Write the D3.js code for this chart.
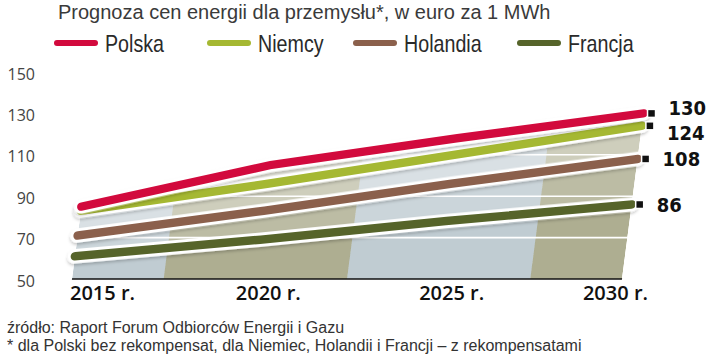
<!DOCTYPE html>
<html><head><meta charset="utf-8">
<script src="https://cdn.jsdelivr.net/npm/d3@7"></script>
<style>
html,body{margin:0;padding:0;background:#fff;}
svg{display:block;}
</style></head>
<body>
<svg id="chart" width="720" height="357"></svg>
<script>
// ---- data ----
const years = [2015, 2020, 2025, 2030];
const seriesNames = ["Polska", "Niemcy", "Holandia", "Francja"];
const polska   = [85, 105, 118, 130];
const niemcy   = [83, 96, 110, 124];
const holandia = [71, 83, 96, 108];
const francja  = [61, 69, 78, 86];
const endLabels = ["130", "124", "108", "86"];
const yTicks = [50, 70, 90, 110, 130, 150];
const xTickLabels = ["2015 r.", "2020 r.", "2025 r.", "2030 r."];
const bandBreaks = [2015, 2017.5, 2022.5, 2027.5, 2030];
const title = "Prognoza cen energii dla przemysłu*, w euro za 1 MWh";
const source = "źródło: Raport Forum Odbiorców Energii i Gazu";
const note = "* dla Polski bez rekompensat, dla Niemiec, Holandii i Francji – z rekompensatami";

// ---- styles / layout ----
const colors = ["#d20a3d", "#a5b832", "#8b604c", "#56642a"];
const bandColors = ["#94a9b3", "#7a7844"];
const legendX = [54, 207, 353, 517];
const labelNudge = [-6, 7, 0, 0];
const shear = 0.13;

const seriesValues = [polska, niemcy, holandia, francja];
const svg = d3.select("#chart");
const defs = svg.append("defs");

const x = d3.scaleLinear().domain([2015, 2030]).range([72, 622]);
const y = d3.scaleLinear().domain([50, 150]).range([279, 72]);
const baseY = y(50);
const shX = (yr, v) => x(yr) + shear * (baseY - y(v));

// title
svg.append("text").attr("x", 58).attr("y", 19)
  .attr("font-family", "'Liberation Sans', sans-serif")
  .attr("font-size", 20).attr("fill", "#3a3a3a").text(title);

// legend (condensed horizontally)
const lg = svg.append("g");
seriesNames.forEach((n, i) => {
  lg.append("line").attr("x1", legendX[i] + 3).attr("x2", legendX[i] + 41)
    .attr("y1", 43).attr("y2", 43).attr("stroke", colors[i])
    .attr("stroke-width", 6).attr("stroke-linecap", "round");
  lg.append("text").attr("transform", `translate(${legendX[i] + 51},52) scale(0.82,1)`)
    .attr("font-family", "'Liberation Sans', sans-serif")
    .attr("font-size", 24).attr("fill", "#2a2a2a").text(n);
});

// y axis labels
svg.append("g").selectAll("text").data(yTicks).join("text")
  .attr("x", 35).attr("y", d => y(d) + 2).attr("dy", "0.35em")
  .attr("text-anchor", "end")
  .attr("font-family", "'Open Sans', sans-serif").attr("font-size", 16)
  .attr("fill", "#444").text(d => d);

// shadow filter
const f = defs.append("filter").attr("id", "sh").attr("x", "-10%").attr("y", "-50%")
  .attr("width", "120%").attr("height", "200%");
f.append("feDropShadow").attr("dx", 0).attr("dy", 2).attr("stdDeviation", 1.5)
  .attr("flood-color", "#000").attr("flood-opacity", 0.22);

// sheared plot group
const angle = -Math.atan(shear) * 180 / Math.PI;
const g = svg.append("g").attr("transform", `translate(${shear * baseY},0) skewX(${angle})`);

const area = d3.area().x((d, i) => x(years[i])).y0(baseY).y1(d => y(d));
const line = d3.line().x((d, i) => x(years[i])).y(d => y(d));

seriesValues.forEach((vals, si) => {
  const cid = "clip" + si;
  defs.append("clipPath").attr("id", cid).append("path").attr("d", area(vals));
  const cg = g.append("g").attr("clip-path", `url(#${cid})`);
  for (let b = 0; b < bandBreaks.length - 1; b++) {
    cg.append("rect").attr("x", x(bandBreaks[b])).attr("width", x(bandBreaks[b + 1]) - x(bandBreaks[b]))
      .attr("y", y(150)).attr("height", baseY - y(150))
      .attr("fill", bandColors[b % 2]).attr("fill-opacity", 0.2);
  }
});

// white gridlines
g.append("g").selectAll("line").data(yTicks.slice(1, 5)).join("line")
  .attr("x1", x(2015)).attr("x2", x(2030) + 30)
  .attr("y1", d => y(d)).attr("y2", d => y(d))
  .attr("stroke", "#fff").attr("stroke-width", 1.6);

// baseline
g.append("line").attr("x1", x(2015)).attr("x2", x(2030)).attr("y1", baseY).attr("y2", baseY)
  .attr("stroke", "#111").attr("stroke-width", 1.5);

// lines, bottom first so Polska ends on top
for (let si = seriesValues.length - 1; si >= 0; si--) {
  const vals = seriesValues[si];
  g.append("path").attr("d", line(vals)).attr("fill", "none")
    .attr("stroke", "#fff").attr("stroke-width", 14.5).attr("stroke-linecap", "round")
    .attr("filter", "url(#sh)");
  g.append("path").attr("d", line(vals)).attr("fill", "none")
    .attr("stroke", colors[si]).attr("stroke-width", 8.5).attr("stroke-linecap", "round");
}

// end markers and labels
seriesValues.forEach((vals, si) => {
  const v = vals[vals.length - 1];
  const ex = shX(2030, v) + 8, ey = y(v);
  svg.append("rect").attr("x", ex - 4).attr("y", ey - 4).attr("width", 8).attr("height", 8)
    .attr("fill", "#111").attr("stroke", "#fff").attr("stroke-width", 1.5);
  svg.append("text").attr("x", ex + 17).attr("y", ey + labelNudge[si]).attr("dy", "0.36em")
    .attr("font-family", "'DejaVu Sans Condensed', 'DejaVu Sans', sans-serif")
    .attr("font-stretch", "condensed")
    .attr("font-weight", "bold").attr("font-size", 20).attr("fill", "#111")
    .text(endLabels[si]);
});

// x labels
svg.append("g").selectAll("text").data(years).join("text")
  .attr("x", (d, i) => i === 0 ? x(d) - 2 : i === years.length - 1 ? x(d) + 26 : x(d) + 13)
  .attr("y", 300)
  .attr("text-anchor", (d, i) => i === 0 ? "start" : i === years.length - 1 ? "end" : "middle")
  .attr("font-family", "'Open Sans', sans-serif").attr("font-weight", 600)
  .attr("font-size", 20).attr("fill", "#111")
  .text((d, i) => xTickLabels[i]);

// footnotes
svg.append("text").attr("x", 7).attr("y", 333)
  .attr("font-family", "'Liberation Sans', sans-serif")
  .attr("font-size", 16).attr("fill", "#333").text(source);
svg.append("text").attr("x", 7).attr("y", 351)
  .attr("font-family", "'Liberation Sans', sans-serif")
  .attr("font-size", 16).attr("fill", "#333").text(note);
</script>
</body></html>
